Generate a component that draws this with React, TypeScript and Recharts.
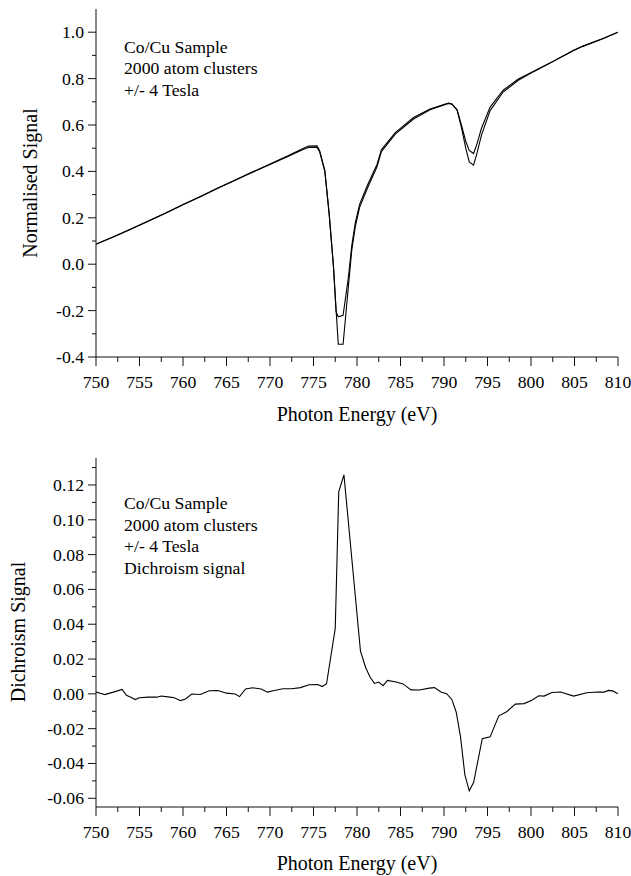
import { LineChart, Line, XAxis, YAxis } from "recharts";

const FONT = '"Liberation Serif", "Times New Roman", serif';

// Top panel: normalised absorption, two field directions
const energyTop = [
  750, 752, 754, 756, 758, 760, 762, 764, 766, 768, 770, 772, 773.8, 774.4, 775.4, 775.7, 776.3, 776.8, 777.3,
  777.6, 777.85, 778.4, 779.0, 779.4, 779.8, 780.3, 781.1, 781.5, 782.3, 782.8, 784.4, 786.5, 788.4, 790.5, 790.9,
  791.5, 792.0, 792.5, 792.9, 793.4, 793.8, 794.3, 795.3, 796.8, 798.5, 800.3, 802.4, 804.9, 806.0, 808.3, 810
];
const signalPlus = [
  0.087, 0.118, 0.152, 0.186, 0.221, 0.257, 0.292, 0.328, 0.363, 0.398, 0.432, 0.466, 0.499, 0.509, 0.51, 0.49, 0.405,
  0.22, -0.01, -0.2, -0.345, -0.345, -0.1, 0.061, 0.161, 0.245, 0.319, 0.353, 0.42, 0.485, 0.561, 0.626, 0.666, 0.693,
  0.69, 0.664, 0.59, 0.5, 0.441, 0.427, 0.48, 0.555, 0.662, 0.742, 0.792, 0.83, 0.871, 0.921, 0.94, 0.973, 1.0
];
const signalMinus = [
  0.086, 0.117, 0.151, 0.185, 0.22, 0.256, 0.291, 0.327, 0.362, 0.396, 0.43, 0.463, 0.494, 0.503, 0.503, 0.485, 0.4,
  0.215, -0.015, -0.205, -0.227, -0.22, -0.06, 0.08, 0.178, 0.258, 0.332, 0.365, 0.43, 0.493, 0.567, 0.632, 0.669,
  0.694, 0.691, 0.667, 0.6, 0.53, 0.49, 0.477, 0.52, 0.585, 0.677, 0.75, 0.797, 0.832, 0.872, 0.922, 0.94, 0.973, 1.0
];

// Bottom panel: dichroism (difference) signal
const energyDichroism = [
  750, 750.5, 751, 752, 753, 753.5, 754, 754.5, 755, 756, 757, 757.5, 758.5, 759, 759.7, 760.3, 761, 762, 763, 764,
  765, 766, 766.5, 767.2, 768, 769, 769.7, 770.5, 771.5, 772.5, 773.5, 774.5, 775.5, 776, 776.5, 777.5, 777.9, 778.5,
  780.4, 781, 781.5, 782, 782.5, 783, 783.5, 784.5, 785.3, 786.2, 787.2, 788.3, 788.9, 789.7, 790.3, 790.9, 791.4,
  791.9, 792.4, 792.9, 793.4, 794.4, 795.3, 796.3, 797.2, 798.2, 799.2, 800.1, 800.9, 801.5, 802.4, 803.4, 804.9,
  806.4, 807.6, 808.4, 808.9, 809.4, 810
];
const dichroism = [
  0.001, 0.0003, -0.0004, 0.001, 0.0025, -0.0008, -0.002, -0.0033, -0.0022, -0.0019, -0.0019, -0.0012, -0.0019,
  -0.0022, -0.0039, -0.0029, -0.0001, -0.0004, 0.0018, 0.0019, 0.0004, -0.0001, -0.0016, 0.0028, 0.0035, 0.0028,
  0.001, 0.0019, 0.0029, 0.0029, 0.0036, 0.0052, 0.0054, 0.0042, 0.0058, 0.0376, 0.116, 0.1258, 0.0245, 0.015,
  0.0097, 0.006, 0.0068, 0.0047, 0.0077, 0.0068, 0.0057, 0.0023, 0.0022, 0.0033, 0.0036, 0.0009, 0.0001, -0.0032,
  -0.0104, -0.0247, -0.0465, -0.0557, -0.051, -0.0257, -0.0247, -0.0126, -0.0103, -0.0059, -0.0056, -0.0037,
  -0.0011, -0.0013, 0.0008, 0.0011, -0.0013, 0.0006, 0.0011, 0.001, 0.002, 0.0017, 0
];

const xTicks = [
  750, 752.5, 755, 757.5, 760, 762.5, 765, 767.5, 770, 772.5, 775, 777.5, 780, 782.5, 785, 787.5, 790, 792.5, 795,
  797.5, 800, 802.5, 805, 807.5, 810
];
const xMajor = [750, 755, 760, 765, 770, 775, 780, 785, 790, 795, 800, 805, 810];
const yTicksTop = [-0.4, -0.3, -0.2, -0.1, 0, 0.1, 0.2, 0.3, 0.4, 0.5, 0.6, 0.7, 0.8, 0.9, 1.0];
const yMajorTop = [-0.4, -0.2, 0, 0.2, 0.4, 0.6, 0.8, 1.0];
const yTicksBottom = [
  -0.06, -0.05, -0.04, -0.03, -0.02, -0.01, 0, 0.01, 0.02, 0.03, 0.04, 0.05, 0.06, 0.07, 0.08, 0.09, 0.1, 0.11, 0.12,
  0.13
];
const yMajorBottom = [-0.06, -0.04, -0.02, 0, 0.02, 0.04, 0.06, 0.08, 0.1, 0.12];

const topData = energyTop.map((e, i) => ({ e, plus: signalPlus[i], minus: signalMinus[i] }));
const bottomData = energyDichroism.map((e, i) => ({ e, d: dichroism[i] }));

const isMajor = (v: number, list: number[]) => list.some((m) => Math.abs(m - v) < 1e-9);
const axisStroke = "#111";
const tickFont = 17.7;

function makeTick(side: "bottom" | "top" | "left" | "right", majors: number[], digits = 0) {
  return (props: any) => {
    const { x, y, payload } = props;
    const major = isMajor(payload.value, majors);
    const len = major ? 9 : 5;
    if (side === "bottom") {
      return (
        <g>
          <line x1={x} x2={x} y1={y} y2={y + len} stroke={axisStroke} />
          {major && (
            <text x={x} y={y + 30.5} textAnchor="middle" fontSize={tickFont} fontFamily={FONT} fill="#000">
              {payload.value}
            </text>
          )}
        </g>
      );
    }
    if (side === "top") return <line x1={x} x2={x} y1={y} y2={y + len} stroke={axisStroke} />;
    if (side === "right") return <line x1={x - len} x2={x} y1={y} y2={y} stroke={axisStroke} />;
    return (
      <g>
        <line x1={x - (major ? 8 : 4)} x2={x} y1={y} y2={y} stroke={axisStroke} />
        {major && (
          <text x={x - 12} y={y + 6} textAnchor="end" fontSize={tickFont} fontFamily={FONT} fill="#000">
            {payload.value.toFixed(digits)}
          </text>
        )}
      </g>
    );
  };
}

function xTitle(y: number) {
  return () => (
    <text x={357} y={y} textAnchor="middle" fontSize={20} fontFamily={FONT} fill="#000">
      Photon Energy (eV)
    </text>
  );
}

function yTitle(text: string, cx: number, cy: number) {
  return () => (
    <text
      x={cx}
      y={cy}
      transform={`rotate(-90 ${cx} ${cy})`}
      textAnchor="middle"
      dominantBaseline="central"
      fontSize={20}
      fontFamily={FONT}
      fill="#000"
    >
      {text}
    </text>
  );
}

const noteStyle = {
  position: "absolute" as const,
  left: 124,
  fontFamily: FONT,
  fontSize: 17.7,
  lineHeight: "21.7px",
  whiteSpace: "pre" as const,
  color: "#000"
};

export default function App() {
  return (
    <div style={{ position: "absolute", left: 0, top: 0, width: 631, height: 876, background: "#fff" }}>
      <LineChart width={631} height={440} data={topData} margin={{ top: 9, right: 13, bottom: 23, left: 0 }}>
        <XAxis
          xAxisId="b"
          dataKey="e"
          type="number"
          domain={[750, 810]}
          allowDataOverflow
          ticks={xTicks}
          interval={0}
          height={60}
          tickSize={0}
          tickMargin={0}
          axisLine={{ stroke: axisStroke }}
          tickLine={false}
          tick={makeTick("bottom", xMajor)}
          label={{ content: xTitle(421) }}
        />
        <XAxis
          xAxisId="t"
          orientation="top"
          dataKey="e"
          type="number"
          domain={[750, 810]}
          allowDataOverflow
          ticks={xTicks}
          interval={0}
          height={0}
          tickSize={0}
          tickMargin={0}
          axisLine={{ stroke: axisStroke }}
          tickLine={false}
          tick={makeTick("top", xMajor)}
        />
        <YAxis
          yAxisId="l"
          type="number"
          domain={[-0.4, 1.1]}
          allowDataOverflow
          ticks={yTicksTop}
          interval={0}
          width={96}
          tickSize={0}
          tickMargin={0}
          axisLine={{ stroke: axisStroke }}
          tickLine={false}
          tick={makeTick("left", yMajorTop, 1)}
          label={{ content: yTitle("Normalised Signal", 30, 183) }}
        />
        <YAxis
          yAxisId="r"
          orientation="right"
          type="number"
          domain={[-0.4, 1.1]}
          allowDataOverflow
          ticks={yTicksTop}
          interval={0}
          width={0}
          tickSize={0}
          tickMargin={0}
          axisLine={{ stroke: axisStroke }}
          tickLine={false}
          tick={makeTick("right", yMajorTop)}
        />
        <Line xAxisId="b" yAxisId="l" dataKey="plus" stroke="#000" strokeWidth={1.1} dot={false} isAnimationActive={false} />
        <Line xAxisId="b" yAxisId="l" dataKey="minus" stroke="#000" strokeWidth={1.1} dot={false} isAnimationActive={false} />
      </LineChart>
      <LineChart width={631} height={436} data={bottomData} margin={{ top: 18, right: 13, bottom: 9, left: 0 }}>
        <XAxis
          xAxisId="b"
          dataKey="e"
          type="number"
          domain={[750, 810]}
          allowDataOverflow
          ticks={xTicks}
          interval={0}
          height={60}
          tickSize={0}
          tickMargin={0}
          axisLine={{ stroke: axisStroke }}
          tickLine={false}
          tick={makeTick("bottom", xMajor)}
          label={{ content: xTitle(430) }}
        />
        <XAxis
          xAxisId="t"
          orientation="top"
          dataKey="e"
          type="number"
          domain={[750, 810]}
          allowDataOverflow
          ticks={xTicks}
          interval={0}
          height={0}
          tickSize={0}
          tickMargin={0}
          axisLine={{ stroke: axisStroke }}
          tickLine={false}
          tick={makeTick("top", xMajor)}
        />
        <YAxis
          yAxisId="l"
          type="number"
          domain={[-0.065, 0.1355]}
          allowDataOverflow
          ticks={yTicksBottom}
          interval={0}
          width={96}
          tickSize={0}
          tickMargin={0}
          axisLine={{ stroke: axisStroke }}
          tickLine={false}
          tick={makeTick("left", yMajorBottom, 2)}
          label={{ content: yTitle("Dichroism Signal", 18, 192) }}
        />
        <YAxis
          yAxisId="r"
          orientation="right"
          type="number"
          domain={[-0.065, 0.1355]}
          allowDataOverflow
          ticks={yTicksBottom}
          interval={0}
          width={0}
          tickSize={0}
          tickMargin={0}
          axisLine={{ stroke: axisStroke }}
          tickLine={false}
          tick={makeTick("right", yMajorBottom)}
        />
        <Line xAxisId="b" yAxisId="l" dataKey="d" stroke="#000" strokeWidth={1.1} dot={false} isAnimationActive={false} />
      </LineChart>
      <div style={{ ...noteStyle, top: 36.5 }}>{"Co/Cu Sample\n2000 atom clusters\n+/- 4 Tesla"}</div>
      <div style={{ ...noteStyle, top: 493 }}>{"Co/Cu Sample\n2000 atom clusters\n+/- 4 Tesla\nDichroism signal"}</div>
    </div>
  );
}
